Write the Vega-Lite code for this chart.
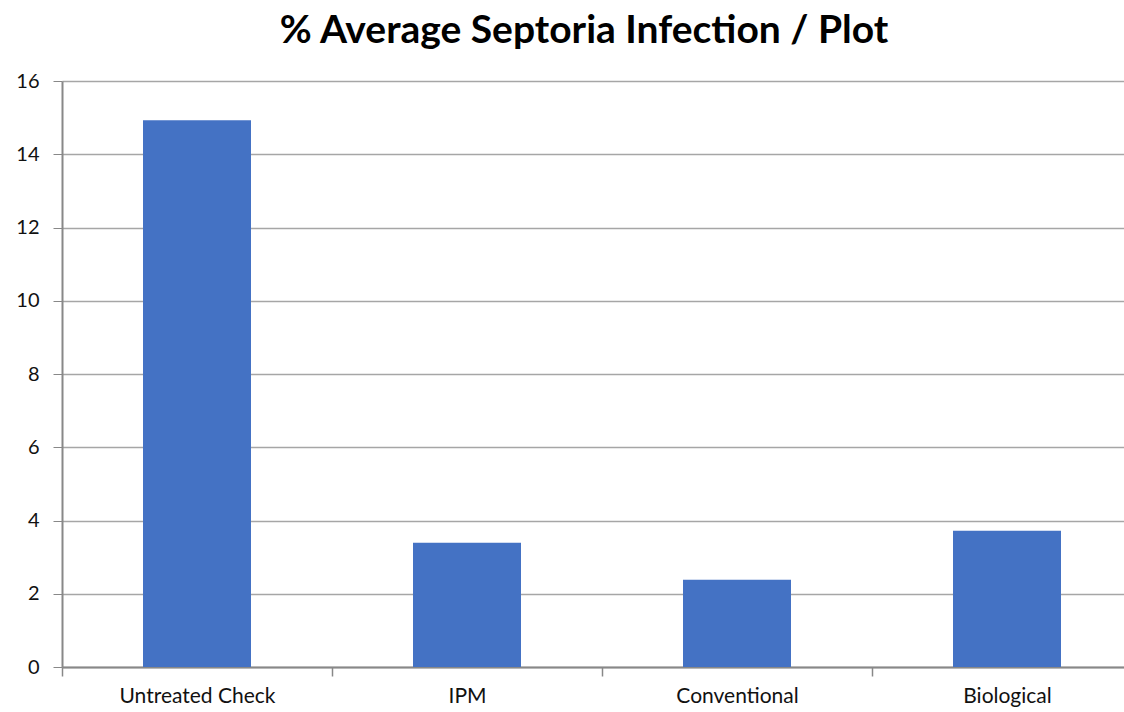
{
  "$schema": "https://vega.github.io/schema/vega-lite/v6.json",
  "autosize": {"type": "none"},
  "padding": {"left": 62, "top": 81, "right": 0, "bottom": 45},
  "width": 1080,
  "height": 586,
  "background": "white",
  "title": {
    "text": "% Average Septoria Infection / Plot",
    "font": "Lato",
    "fontWeight": "bold",
    "fontSize": 39,
    "color": "#000000",
    "anchor": "middle",
    "dx": -18,
    "offset": 20
  },
  "data": {
    "values": [
      {"treatment": "Untreated Check", "infection": 14.93},
      {"treatment": "IPM", "infection": 3.39},
      {"treatment": "Conventional", "infection": 2.38},
      {"treatment": "Biological", "infection": 3.72}
    ]
  },
  "mark": {"type": "bar", "color": "#4472C4"},
  "encoding": {
    "x": {
      "field": "treatment",
      "type": "nominal",
      "sort": null,
      "scale": {"paddingInner": 0.6, "paddingOuter": 0.3},
      "axis": {
        "title": null,
        "labelAngle": 0,
        "labelFont": "Lato",
        "labelFontSize": 21,
        "labelColor": "#111111",
        "labelPadding": 9,
        "tickOffset": -135,
        "labelOffset": 135,
        "tickSize": 9,
        "tickColor": "#888888",
        "tickWidth": 1.5,
        "domainColor": "#888888",
        "domainWidth": 2,
        "grid": false
      }
    },
    "y": {
      "field": "infection",
      "type": "quantitative",
      "scale": {"domain": [0, 16], "nice": false},
      "axis": {
        "title": null,
        "values": [0, 2, 4, 6, 8, 10, 12, 14, 16],
        "labelFont": "Lato",
        "labelFontSize": 20,
        "labelColor": "#111111",
        "labelPadding": 14,
        "tickSize": 9,
        "tickColor": "#888888",
        "domainColor": "#888888",
        "domainWidth": 2,
        "gridColor": "#A6A6A6",
        "gridWidth": 1.3,
        "gridOpacity": 1
      }
    }
  },
  "config": {"view": {"stroke": null}}
}
